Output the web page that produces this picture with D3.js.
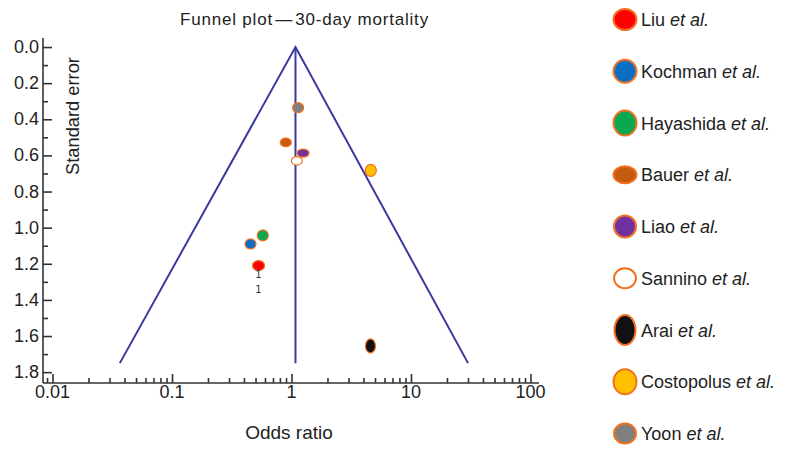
<!DOCTYPE html>
<html>
<head>
<meta charset="utf-8">
<script src="https://cdn.jsdelivr.net/npm/d3@7"></script>
<style>
  html, body { margin: 0; padding: 0; background: #fff; }
  svg { display: block; font-family: "Liberation Sans", Arial, Helvetica, sans-serif; }
</style>
</head>
<body>
<svg id="chart" width="785" height="449"></svg>
<script>
// ---- Data ----
const studies = ["Liu", "Kochman", "Hayashida", "Bauer", "Liao", "Sannino", "Arai", "Costopolus", "Yoon"];
const oddsRatio = [0.53, 0.454, 0.575, 0.896, 1.25, 1.108, 4.58, 4.61, 1.136];
const standardError = [1.21, 1.09, 1.043, 0.528, 0.587, 0.63, 1.655, 0.683, 0.336];
const pooledOR = 1.08;
const funnelSE = 1.75;
const funnelLowerOR = 0.0366;
const funnelUpperOR = 30.0;
const xTickValues = [0.01, 0.1, 1, 10, 100];
const xTickLabels = ["0.01", "0.1", "1", "10", "100"];
const yTickValues = [0, 0.2, 0.4, 0.6, 0.8, 1.0, 1.2, 1.4, 1.6, 1.8];
const yTickLabels = ["0.0", "0.2", "0.4", "0.6", "0.8", "1.0", "1.2", "1.4", "1.6", "1.8"];
const annotationLabels = ["1", "1"];

// ---- Styles ----
const fills = ["#ff0000", "#0b6ec5", "#0aa84f", "#c55a11", "#7030a0", "#ffffff", "#111111", "#ffc000", "#7f7f7f"];
const outline = "#f37021";
const plotRadii = [[6, 5], [5.5, 5], [5.5, 5.5], [5.5, 4.3], [6, 4], [5.5, 4.3], [5, 7], [5.5, 6], [5.5, 5]];
const legendRadii = [[11.5, 10.5], [11.5, 11.5], [11.5, 12.5], [11.5, 8.5], [11, 11], [11, 10], [10.5, 15], [11.5, 12.5], [11, 10]];
const funnelColor = "#3a3a9e";
const axisColor = "#333333";
const textColor = "#222222";

const svg = d3.select("#chart");

// ---- Scales ----
const x = d3.scaleLog()
  .domain([Math.pow(10, -2 - 9.5 / 119.5), Math.pow(10, 2 + 8.5 / 119.5)])
  .range([43, 539]);
const y = d3.scaleLinear()
  .domain([-0.05, 1.86])
  .range([38, 383]);

// ---- Axes ----
const xMinor = [];
for (let e = -3; e <= 2; e++) for (let k = 2; k <= 9; k++) {
  const v = k * Math.pow(10, e);
  if (v > x.domain()[0] && v < x.domain()[1]) xMinor.push(v);
}
const yMinor = d3.range(0.1, 1.9, 0.2);

const xAxisG = svg.append("g").attr("transform", "translate(0,383)");
xAxisG.call(d3.axisTop(x).tickValues(xMinor).tickSize(5).tickFormat(""));
xAxisG.append("g").call(d3.axisTop(x).tickValues(xTickValues).tickSize(9).tickFormat(""));
xAxisG.selectAll("path").remove();
xAxisG.append("line").attr("x1", 43).attr("x2", 539).attr("y1", 0).attr("y2", 0);
xAxisG.selectAll("line").attr("stroke", axisColor).attr("stroke-width", 1.6);
xAxisG.selectAll(".xlab").data(xTickValues).enter().append("text")
  .attr("class", "xlab")
  .attr("x", d => x(d)).attr("y", 15)
  .attr("text-anchor", "middle")
  .attr("font-size", 18).attr("fill", textColor)
  .text((d, i) => xTickLabels[i]);

const yAxisG = svg.append("g").attr("transform", "translate(43,0)");
yAxisG.call(d3.axisRight(y).tickValues(yMinor).tickSize(5).tickFormat(""));
yAxisG.append("g").call(d3.axisRight(y).tickValues(yTickValues).tickSize(9).tickFormat(""));
yAxisG.selectAll("path").remove();
yAxisG.append("line").attr("x1", 0).attr("x2", 0).attr("y1", 38).attr("y2", 383);
yAxisG.selectAll("line").attr("stroke", axisColor).attr("stroke-width", 1.6);
yAxisG.selectAll(".ylab").data(yTickValues).enter().append("text")
  .attr("class", "ylab")
  .attr("x", -4).attr("y", d => y(d) + 6)
  .attr("text-anchor", "end")
  .attr("font-size", 18).attr("fill", textColor)
  .text((d, i) => yTickLabels[i]);

// ---- Funnel ----
const funnel = svg.append("g").attr("stroke", funnelColor).attr("stroke-width", 2).attr("fill", "none");
funnel.append("path")
  .attr("d", d3.line()([[x(funnelLowerOR), y(funnelSE)], [x(pooledOR), y(0)], [x(funnelUpperOR), y(funnelSE)]]));
funnel.append("line")
  .attr("x1", x(pooledOR)).attr("x2", x(pooledOR))
  .attr("y1", y(0)).attr("y2", y(funnelSE));

// ---- Points ----
svg.append("g").selectAll("ellipse").data(studies).enter().append("ellipse")
  .attr("cx", (d, i) => x(oddsRatio[i]))
  .attr("cy", (d, i) => y(standardError[i]))
  .attr("rx", (d, i) => plotRadii[i][0])
  .attr("ry", (d, i) => plotRadii[i][1])
  .attr("fill", (d, i) => fills[i])
  .attr("stroke", outline).attr("stroke-width", 1.2);

// annotation "1" labels under Liu
svg.append("g").selectAll("text").data(annotationLabels).enter().append("text")
  .attr("x", x(oddsRatio[0]))
  .attr("y", (d, i) => y(standardError[0]) + 12 + i * 15.5)
  .attr("text-anchor", "middle")
  .attr("font-family", "DejaVu Sans, sans-serif")
  .attr("font-size", 10).attr("fill", "#333")
  .text(d => d);

// ---- Titles ----
svg.append("text").attr("x", 304.5).attr("y", 25)
  .attr("text-anchor", "middle").attr("font-size", 17).attr("letter-spacing", 0.8)
  .attr("fill", textColor).text("Funnel plot\u200a\u2014\u200a30-day mortality");
svg.append("text").attr("x", 289).attr("y", 439)
  .attr("text-anchor", "middle").attr("font-size", 19)
  .attr("fill", textColor).text("Odds ratio");
svg.append("text").attr("transform", "translate(79,116) rotate(-90)")
  .attr("text-anchor", "middle").attr("font-size", 18.3)
  .attr("fill", textColor).text("Standard error");

// ---- Legend ----
const legend = svg.append("g");
const lg = legend.selectAll("g").data(studies).enter().append("g")
  .attr("transform", (d, i) => `translate(0,${26 + i * 51.75})`);
lg.append("ellipse")
  .attr("cx", 625).attr("cy", -6.5)
  .attr("rx", (d, i) => legendRadii[i][0])
  .attr("ry", (d, i) => legendRadii[i][1])
  .attr("fill", (d, i) => fills[i])
  .attr("stroke", outline).attr("stroke-width", 2);
const lt = lg.append("text").attr("x", 641).attr("y", 0)
  .attr("font-size", 18).attr("fill", textColor);
lt.append("tspan").text(d => d + " ");
lt.append("tspan").attr("font-style", "italic").text("et al.");
</script>
</body>
</html>
